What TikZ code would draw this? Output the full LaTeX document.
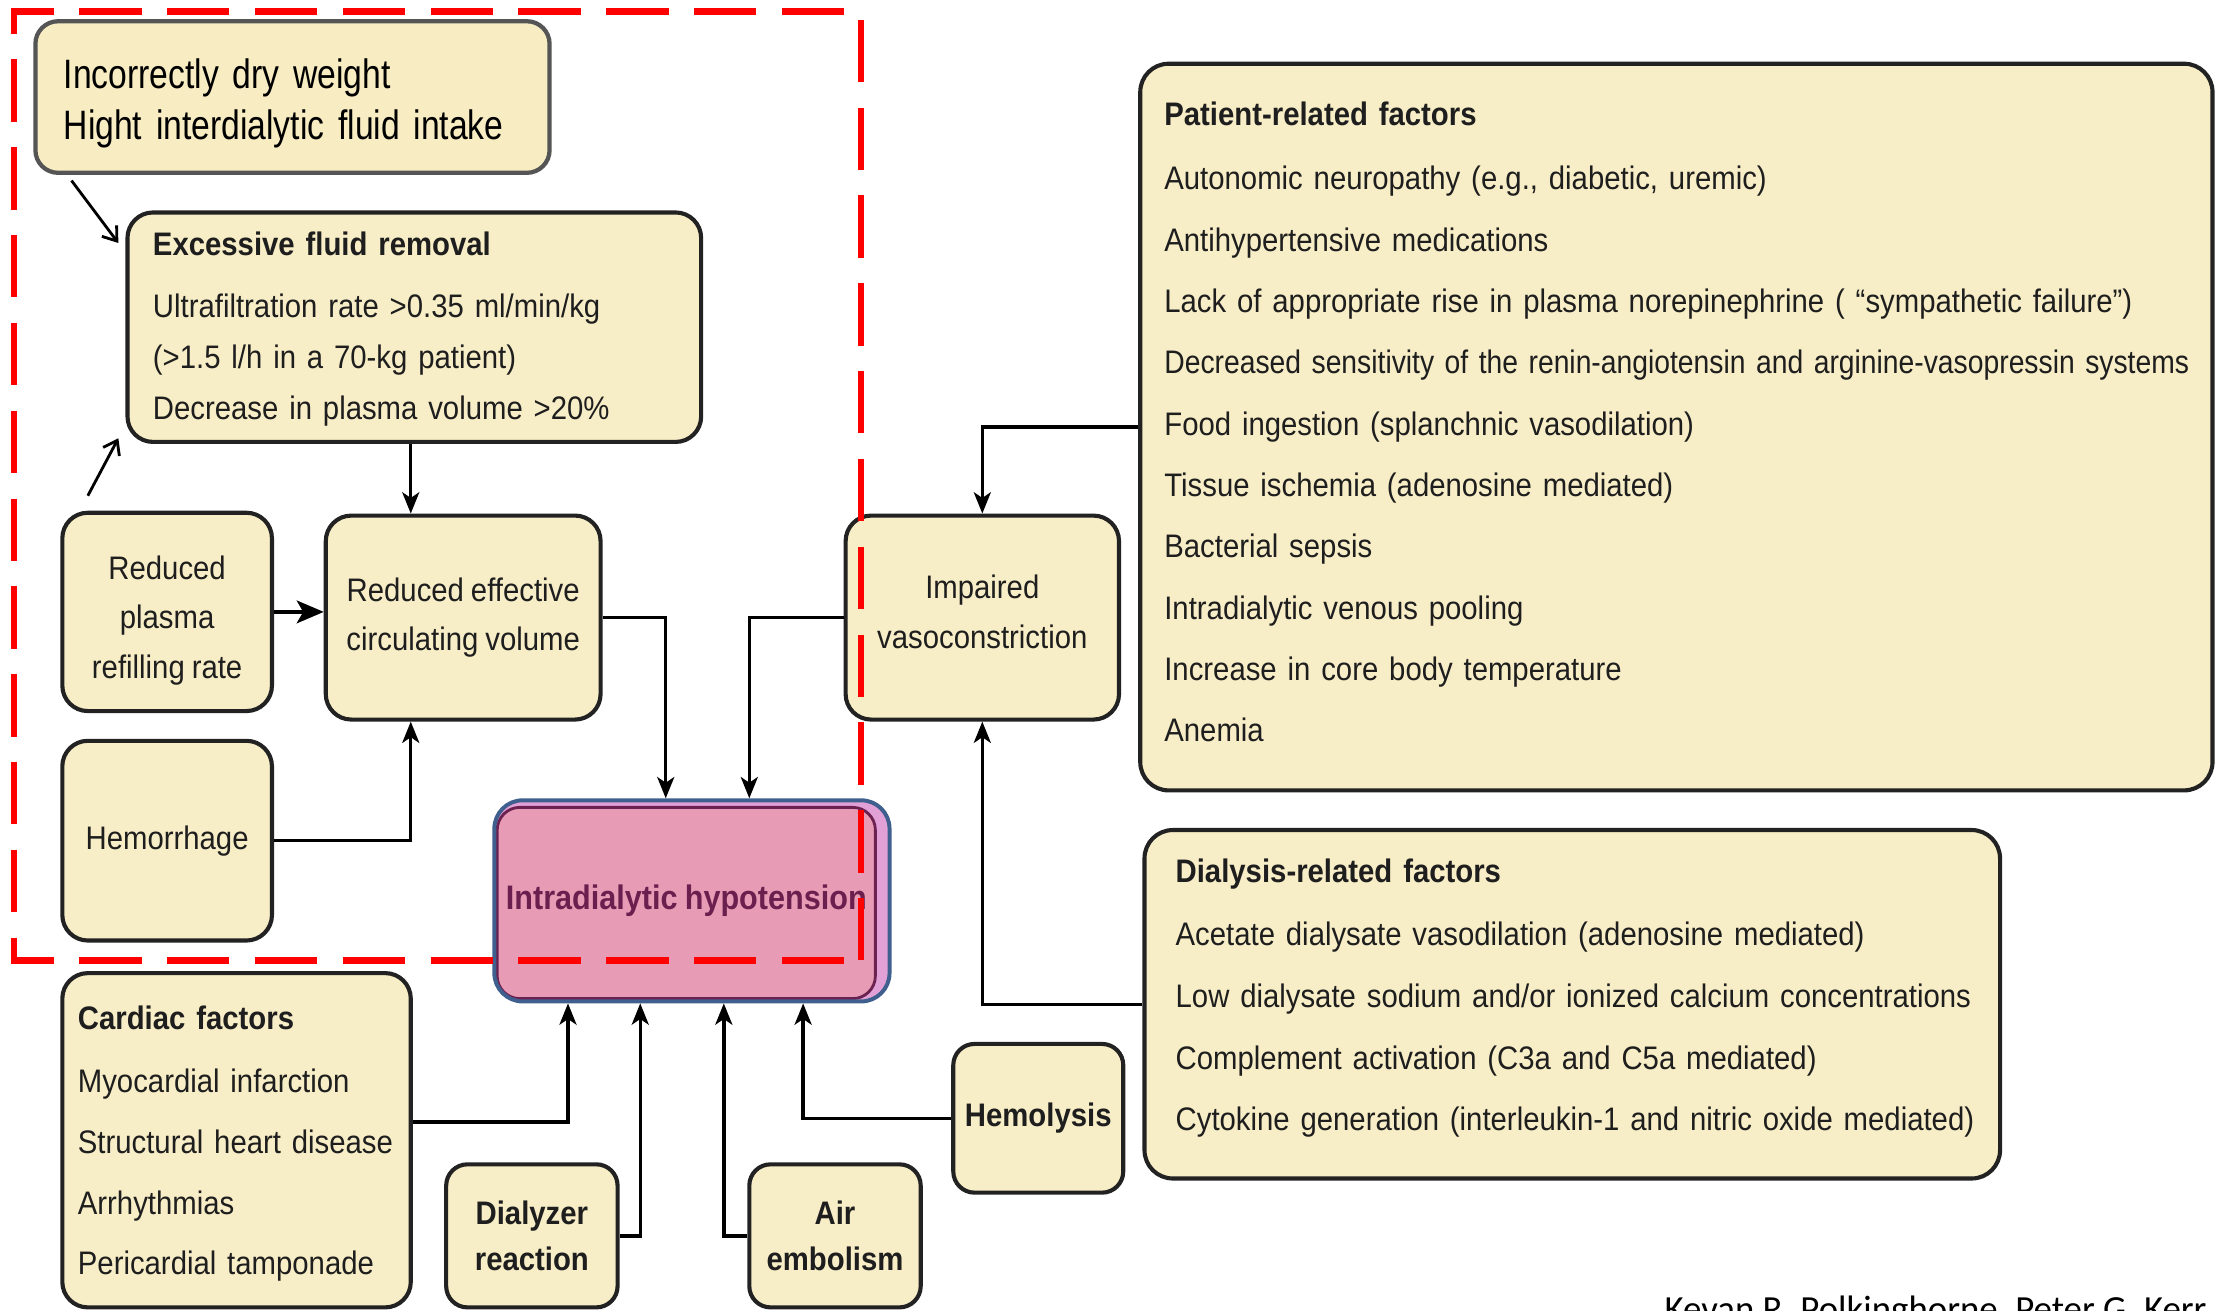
\documentclass[tikz,border=0pt]{standalone}
\usepackage{graphicx}
\usepackage{fontspec}
\setmainfont{Liberation Sans}[FakeStretch=0.9,WordSpace=0.85]
\newfontfamily\incfont{Liberation Sans}[FakeStretch=0.82]
\newfontfamily\credfont{Carlito}
\usetikzlibrary{arrows.meta}
\definecolor{boxfill}{HTML}{F7EDC6}
\definecolor{incfill}{HTML}{F8ECC2}
\definecolor{incline}{HTML}{555555}
\definecolor{boxline}{HTML}{222222}
\definecolor{txt}{HTML}{1E1E1E}
\definecolor{pinkfill}{HTML}{E79BB5}
\definecolor{lilac}{HTML}{E2A1D6}
\definecolor{ihblue}{HTML}{3F5F8E}
\definecolor{ihmaroon}{HTML}{6C2251}
\definecolor{ihtext}{HTML}{6A1F4E}
\definecolor{dashred}{HTML}{FF0000}
\begin{document}
\begin{tikzpicture}[x=1pt,y=-1pt,
  base/.style={draw=boxline,line width=2.9pt,fill=boxfill,rounded corners=18pt,inner sep=0pt,text=txt},
  cbox/.style={base,align=center,font=\fontsize{23}{35}\selectfont},
  bbox/.style={base,align=center,rounded corners=15pt,font=\bfseries\fontsize{23}{33}\selectfont},
  lbox/.style={base,align=left},
  arr/.style={line width=2.4pt,-{Stealth[length=15pt,width=12pt,inset=4pt]}},
  barbarr/.style={line width=2pt,-{Straight Barb[length=9pt,width=13pt]}},
]
\useasboundingbox (0,0) rectangle (1568,925);
\clip (0,0) rectangle (1568,925);
\fill[white] (0,0) rectangle (1568,925);

% top note box
\node[lbox, draw=incline, fill=incfill, line width=3pt, rounded corners=16pt,
  minimum width=363pt, minimum height=107pt, text width=323pt, text=black,
  font=\incfont\fontsize{29}{36}\selectfont] (inc) at (206.5,68.5)
  {\raisebox{-5pt}[\height][\depth]{\begin{tabular}{@{}l@{}}Incorrectly dry weight\\Hight interdialytic fluid intake\end{tabular}}};

% excessive fluid removal
\node[lbox, minimum width=405pt, minimum height=162pt, text width=369pt,
  font=\fontsize{23}{36}\selectfont] (efr) at (292.5,231)
  {\begin{tabular}{@{}l@{}}\textbf{Excessive fluid removal}\\[8pt]Ultrafiltration rate >0.35 ml/min/kg\\(>1.5 l/h in a 70-kg patient)\\Decrease in plasma volume >20\%\end{tabular}};

\node[cbox, minimum width=148pt, minimum height=140pt] (rpr) at (118,432) {\raisebox{-5pt}[\height][\depth]{\begin{tabular}{@{}c@{}}Reduced\\plasma\\refilling rate\end{tabular}}};
\node[cbox, minimum width=194pt, minimum height=144pt] (rec) at (327,436) {Reduced effective\\circulating volume};
\node[cbox, minimum width=148pt, minimum height=141pt] (hem) at (118,593.5) {Hemorrhage};
\node[cbox, minimum width=193pt, minimum height=144pt] (iv) at (693.5,436) {\raisebox{3pt}[\height][\depth]{\begin{tabular}{@{}c@{}}Impaired\\vasoconstriction\end{tabular}}};

% intradialytic hypotension
\node[draw=ihblue, line width=2.8pt, fill=lilac, rounded corners=20pt,
  minimum width=279pt, minimum height=142pt, inner sep=0pt, text=ihtext,
  font=\bfseries\fontsize{24}{30}\selectfont,
  path picture={\draw[ihmaroon, line width=2pt, fill=pinkfill, rounded corners=16pt]
    ([xshift=2pt,yshift=-5pt]path picture bounding box.north west) rectangle
    ([xshift=-10pt,yshift=2pt]path picture bounding box.south east);}]
  (ih) at (488.5,636) {\hspace*{-8pt}Intradialytic hypotension};

% patient-related factors
\node[lbox, rounded corners=20pt, minimum width=757pt, minimum height=513pt, text width=723pt,
  font=\fontsize{23}{43.3}\selectfont] (prf) at (1183.5,301.5)
  {\raisebox{4pt}[\height][\depth]{\begin{tabular}{@{}l@{}}\textbf{Patient-related factors}\\[2pt]
  Autonomic neuropathy (e.g., diabetic, uremic)\\
  Antihypertensive medications\\
  Lack of appropriate rise in plasma norepinephrine ( “sympathetic failure”)\\
  \scalebox{0.965}[1]{Decreased sensitivity of the renin-angiotensin and arginine-vasopressin systems}\\
  Food ingestion (splanchnic vasodilation)\\
  Tissue ischemia (adenosine mediated)\\
  Bacterial sepsis\\
  Intradialytic venous pooling\\
  Increase in core body temperature\\
  Anemia\end{tabular}}};

% dialysis-related factors
\node[lbox, rounded corners=20pt, minimum width=604pt, minimum height=246pt, text width=560pt,
  font=\fontsize{23}{43.5}\selectfont] (drf) at (1110,709)
  {\raisebox{7pt}[\height][\depth]{\begin{tabular}{@{}l@{}}\textbf{Dialysis-related factors}\\[1pt]
  Acetate dialysate vasodilation (adenosine mediated)\\
  Low dialysate sodium and/or ionized calcium concentrations\\
  Complement activation (C3a and C5a mediated)\\
  Cytokine generation (interleukin-1 and nitric oxide mediated)\end{tabular}}};

% cardiac factors
\node[lbox, minimum width=246pt, minimum height=236pt, text width=224pt,
  font=\fontsize{23}{43}\selectfont] (cf) at (167,805)
  {\begin{tabular}{@{}l@{}}\textbf{Cardiac factors}\\[1pt]
  Myocardial infarction\\
  Structural heart disease\\
  Arrhythmias\\
  Pericardial tamponade\end{tabular}};

\node[bbox, minimum width=121pt, minimum height=101pt] (dr) at (375.5,872.5) {Dialyzer\\reaction};
\node[bbox, minimum width=121pt, minimum height=101pt] (ae) at (589.5,872.5) {Air\\embolism};
\node[bbox, minimum width=120pt, minimum height=105pt] (hl) at (733,789.5) {Hemolysis};

% connectors
\coordinate (lowsrc) at (62,350);
\draw[barbarr] ([xshift=27pt,yshift=-4pt]inc.south west) -- ([xshift=-5pt,yshift=-23pt]efr.north west);
\draw[barbarr] (lowsrc) -- ([xshift=-5pt,yshift=4pt]efr.south west);

\draw[arr] ([xshift=-2.5pt]efr.south) -- ([xshift=-2.5pt]efr.south |- rec.north);
\draw[line width=2.8pt,-{Stealth[length=19pt,width=16pt,inset=4.5pt]}] (rpr.east) -- (rpr.east -| rec.west);
\draw[arr] (hem.east) -| ([xshift=-37pt]rec.south);
\draw[arr] (rec.east) -| ([xshift=-18.5pt]ih.north);
\draw[arr] (iv.west) -| ([xshift=40.5pt]ih.north);
\draw[arr] (prf.west) -| (iv.north);
\draw[arr] (drf.west) -| (iv.south);
\draw[arr] ([yshift=13pt]cf.east) -| ([xshift=-87.5pt]ih.south);
\draw[arr] (dr.east) -| ([xshift=-36.5pt]ih.south);
\draw[arr] (ae.west) -| ([xshift=22.5pt]ih.south);
\draw[arr] (hl.west) -| ([xshift=78.5pt]ih.south);

% red dashed frame
\draw[dashred, line width=4.5pt, dash pattern=on 44pt off 18pt]
  (608,678) -- (608,8) -- (10,8) -- (10,678) -- cycle;

% credit
\node[anchor=base west, inner sep=0pt, font=\credfont\fontsize{26}{30}\selectfont] (credit) at (1175,933)
  {Kevan R. Polkinghorne, Peter G. Kerr};
\end{tikzpicture}
\end{document}
